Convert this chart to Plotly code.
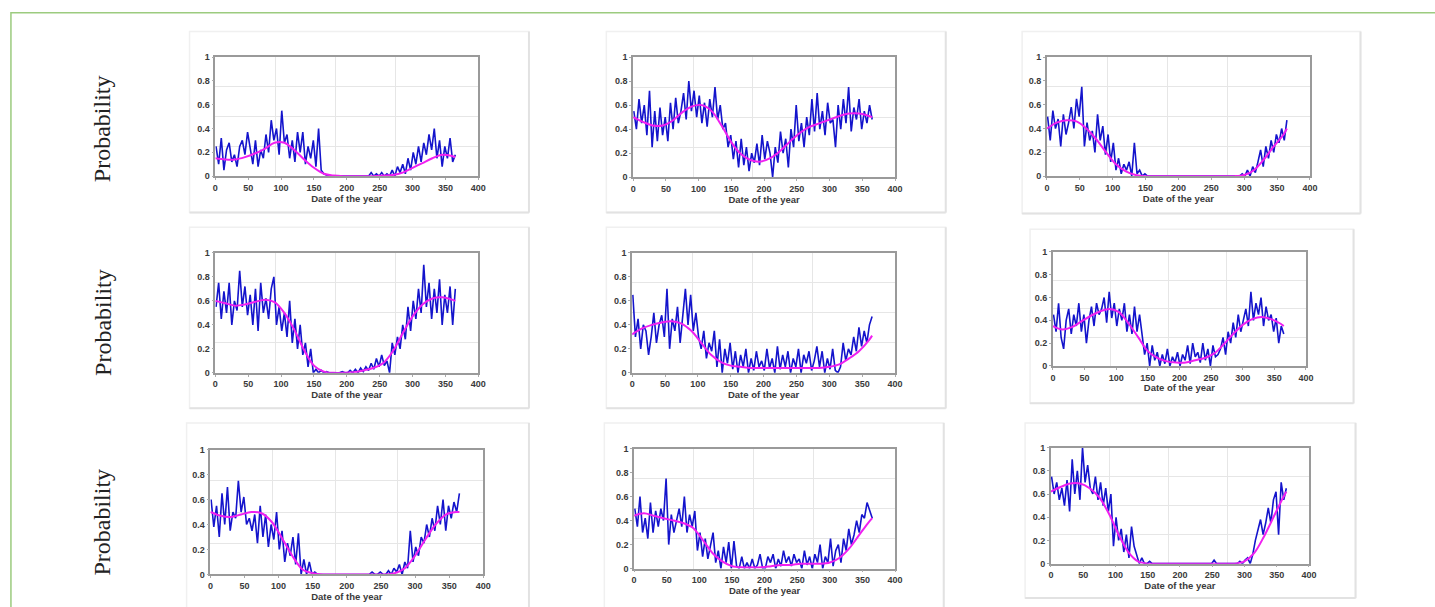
import plotly.graph_objects as go

# ---------------- data ----------------
SMOOTH_DAYS = list(range(0, 361, 15)) + [365]
X_TICKS = [0, 50, 100, 150, 200, 250, 300, 350, 400]
Y_TICKS = [0, 0.2, 0.4, 0.6, 0.8, 1]
X_TITLE = "Date of the year"
Y_LABEL = "Probability"

BLUE_1 = [0.25,0.10,0.32,0.05,0.22,0.28,0.12,0.18,0.08,0.25,
          0.30,0.18,0.37,0.22,0.10,0.30,0.08,0.22,0.15,0.35,
          0.20,0.47,0.30,0.40,0.18,0.55,0.28,0.35,0.15,0.30,
          0.12,0.37,0.20,0.37,0.10,0.25,0.15,0.30,0.08,0.40,
          0.05,0.02,0.01,0.00,0.00,0.00,0.00,0.00,0.00,0.00,
          0.00,0.00,0.00,0.00,0.00,0.00,0.00,0.00,0.00,0.03,
          0.00,0.02,0.00,0.03,0.00,0.02,0.00,0.05,0.00,0.08,
          0.03,0.10,0.02,0.15,0.05,0.20,0.10,0.25,0.12,0.28,
          0.18,0.35,0.22,0.40,0.15,0.30,0.08,0.25,0.15,0.32,
          0.12,0.18]
BLUE_2 = [0.55,0.40,0.65,0.45,0.60,0.35,0.72,0.25,0.55,0.30,
          0.58,0.35,0.50,0.30,0.62,0.40,0.66,0.45,0.55,0.70,
          0.48,0.80,0.55,0.72,0.50,0.68,0.45,0.62,0.42,0.65,
          0.50,0.75,0.48,0.60,0.40,0.45,0.25,0.35,0.15,0.30,
          0.08,0.32,0.10,0.25,0.05,0.20,0.12,0.28,0.10,0.35,
          0.15,0.30,0.20,0.00,0.25,0.12,0.38,0.20,0.32,0.08,
          0.40,0.25,0.60,0.30,0.45,0.25,0.50,0.35,0.65,0.38,
          0.70,0.40,0.55,0.35,0.62,0.45,0.48,0.25,0.60,0.40,
          0.65,0.45,0.75,0.38,0.58,0.48,0.65,0.40,0.55,0.45,
          0.60,0.48]
BLUE_3 = [0.50,0.30,0.55,0.40,0.48,0.25,0.52,0.35,0.45,0.58,
          0.40,0.65,0.50,0.75,0.25,0.45,0.30,0.38,0.20,0.52,
          0.30,0.42,0.18,0.35,0.12,0.28,0.05,0.15,0.02,0.10,
          0.05,0.12,0.00,0.28,0.02,0.05,0.00,0.02,0.00,0.00,
          0.00,0.00,0.00,0.00,0.00,0.00,0.00,0.00,0.00,0.00,
          0.00,0.00,0.00,0.00,0.00,0.00,0.00,0.00,0.00,0.00,
          0.00,0.00,0.00,0.00,0.00,0.00,0.00,0.00,0.00,0.00,
          0.00,0.00,0.00,0.00,0.02,0.00,0.05,0.00,0.08,0.03,
          0.12,0.22,0.08,0.25,0.15,0.30,0.20,0.35,0.28,0.40,
          0.30,0.47]
BLUE_4 = [0.55,0.75,0.45,0.68,0.50,0.75,0.40,0.60,0.52,0.85,
          0.55,0.72,0.48,0.65,0.40,0.70,0.35,0.75,0.50,0.62,
          0.45,0.70,0.80,0.40,0.55,0.35,0.50,0.30,0.60,0.25,
          0.45,0.20,0.40,0.15,0.25,0.05,0.20,0.00,0.03,0.00,
          0.02,0.00,0.01,0.00,0.00,0.00,0.00,0.00,0.01,0.00,
          0.00,0.02,0.00,0.03,0.00,0.04,0.01,0.05,0.02,0.08,
          0.03,0.12,0.05,0.15,0.06,0.10,0.00,0.25,0.15,0.30,
          0.20,0.40,0.28,0.55,0.35,0.60,0.45,0.70,0.50,0.90,
          0.55,0.75,0.45,0.70,0.50,0.78,0.40,0.65,0.50,0.72,
          0.40,0.70]
BLUE_5 = [0.65,0.30,0.45,0.20,0.40,0.35,0.15,0.30,0.50,0.25,
          0.40,0.48,0.30,0.70,0.20,0.45,0.35,0.55,0.25,0.50,
          0.70,0.40,0.65,0.35,0.50,0.30,0.20,0.35,0.12,0.25,
          0.18,0.35,0.05,0.28,0.00,0.20,0.08,0.25,0.03,0.18,
          0.00,0.15,0.05,0.20,0.00,0.12,0.02,0.18,0.05,0.10,
          0.02,0.20,0.04,0.12,0.00,0.22,0.03,0.15,0.05,0.18,
          0.00,0.12,0.05,0.20,0.00,0.15,0.08,0.18,0.02,0.10,
          0.22,0.05,0.18,0.00,0.12,0.03,0.20,0.02,0.00,0.05,
          0.25,0.10,0.20,0.15,0.30,0.18,0.38,0.22,0.35,0.25,
          0.40,0.47]
BLUE_6 = [0.45,0.30,0.55,0.25,0.15,0.40,0.50,0.28,0.45,0.35,
          0.55,0.30,0.45,0.20,0.40,0.52,0.35,0.55,0.45,0.50,
          0.60,0.38,0.65,0.42,0.55,0.35,0.50,0.40,0.55,0.30,
          0.45,0.28,0.52,0.30,0.45,0.25,0.10,0.20,0.00,0.18,
          0.05,0.12,0.00,0.10,0.02,0.15,0.00,0.08,0.03,0.12,
          0.00,0.10,0.05,0.18,0.02,0.20,0.08,0.12,0.03,0.20,
          0.05,0.15,0.00,0.18,0.08,0.10,0.15,0.25,0.10,0.30,
          0.20,0.38,0.25,0.45,0.30,0.40,0.50,0.35,0.65,0.40,
          0.55,0.45,0.60,0.35,0.52,0.40,0.45,0.30,0.42,0.20,
          0.35,0.28]
BLUE_7 = [0.60,0.38,0.55,0.30,0.65,0.40,0.70,0.35,0.50,0.45,
          0.75,0.50,0.62,0.40,0.45,0.35,0.48,0.25,0.55,0.30,
          0.48,0.22,0.40,0.28,0.50,0.20,0.35,0.10,0.25,0.15,
          0.30,0.08,0.33,0.00,0.12,0.00,0.10,0.00,0.02,0.00,
          0.00,0.00,0.00,0.00,0.00,0.00,0.00,0.00,0.00,0.00,
          0.00,0.00,0.00,0.00,0.00,0.00,0.00,0.00,0.00,0.02,
          0.00,0.00,0.02,0.00,0.00,0.03,0.00,0.05,0.02,0.08,
          0.00,0.10,0.05,0.35,0.10,0.22,0.15,0.30,0.25,0.40,
          0.30,0.45,0.35,0.55,0.40,0.60,0.35,0.55,0.45,0.58,
          0.50,0.65]
BLUE_8 = [0.50,0.35,0.60,0.30,0.42,0.25,0.55,0.30,0.48,0.35,
          0.50,0.40,0.75,0.20,0.45,0.30,0.40,0.50,0.35,0.60,
          0.30,0.45,0.35,0.48,0.15,0.30,0.10,0.25,0.08,0.20,
          0.30,0.05,0.15,0.00,0.18,0.05,0.22,0.00,0.23,0.02,
          0.00,0.10,0.00,0.05,0.00,0.08,0.00,0.03,0.12,0.00,
          0.00,0.10,0.05,0.12,0.00,0.08,0.02,0.15,0.05,0.10,
          0.02,0.12,0.05,0.08,0.00,0.15,0.03,0.10,0.00,0.12,
          0.05,0.20,0.00,0.10,0.05,0.25,0.02,0.15,0.20,0.05,
          0.25,0.15,0.33,0.20,0.28,0.40,0.30,0.45,0.42,0.55,
          0.48,0.42]
BLUE_9 = [0.75,0.60,0.70,0.55,0.65,0.50,0.72,0.45,0.90,0.60,
          0.80,0.55,1.00,0.70,0.85,0.65,0.60,0.75,0.55,0.70,
          0.50,0.65,0.45,0.60,0.15,0.40,0.20,0.30,0.10,0.25,
          0.05,0.32,0.15,0.08,0.00,0.05,0.00,0.00,0.02,0.00,
          0.00,0.00,0.00,0.00,0.00,0.00,0.00,0.00,0.00,0.00,
          0.00,0.00,0.00,0.00,0.00,0.00,0.00,0.00,0.00,0.00,
          0.00,0.00,0.00,0.03,0.00,0.00,0.00,0.00,0.00,0.00,
          0.00,0.00,0.00,0.02,0.00,0.03,0.05,0.00,0.08,0.20,
          0.30,0.38,0.25,0.35,0.48,0.35,0.55,0.62,0.25,0.70,
          0.55,0.65]

SMOOTH_1 = [0.15,0.14,0.14,0.16,0.19,0.23,0.28,0.28,0.22,0.14,
            0.07,0.02,0.005,0,0,0,0,0.005,0.01,0.03,
            0.07,0.11,0.15,0.18,0.17,0.16]
SMOOTH_2 = [0.50,0.46,0.43,0.43,0.47,0.54,0.59,0.60,0.55,0.43,
            0.29,0.19,0.14,0.13,0.16,0.22,0.30,0.37,0.42,0.45,
            0.48,0.51,0.53,0.53,0.51,0.50]
SMOOTH_3 = [0.40,0.45,0.47,0.46,0.40,0.31,0.20,0.10,0.04,0.01,
            0,0,0,0,0,0,0,0,0,0,
            0.01,0.05,0.14,0.25,0.35,0.40]
SMOOTH_4 = [0.60,0.58,0.56,0.57,0.59,0.61,0.59,0.50,0.36,0.19,
            0.06,0.01,0,0,0.005,0.02,0.04,0.08,0.18,0.33,
            0.47,0.57,0.62,0.63,0.61,0.60]
SMOOTH_5 = [0.32,0.37,0.40,0.42,0.43,0.41,0.35,0.25,0.15,0.09,
            0.06,0.05,0.04,0.04,0.04,0.04,0.04,0.04,0.04,0.04,
            0.05,0.07,0.12,0.18,0.27,0.31]
SMOOTH_6 = [0.35,0.32,0.34,0.39,0.44,0.48,0.50,0.47,0.37,0.25,
            0.13,0.07,0.04,0.03,0.03,0.05,0.07,0.11,0.19,0.28,
            0.36,0.41,0.43,0.41,0.37,0.35]
SMOOTH_7 = [0.50,0.47,0.46,0.48,0.50,0.49,0.42,0.29,0.15,0.04,
            0.01,0,0,0,0,0,0,0,0.01,0.05,
            0.15,0.28,0.40,0.48,0.50,0.50]
SMOOTH_8 = [0.44,0.46,0.44,0.42,0.40,0.38,0.34,0.24,0.13,0.06,
            0.02,0.01,0.01,0.01,0.02,0.03,0.03,0.04,0.04,0.04,
            0.05,0.09,0.17,0.28,0.39,0.42]
SMOOTH_9 = [0.62,0.66,0.69,0.69,0.65,0.57,0.43,0.25,0.10,0.02,
            0,0,0,0,0,0,0,0,0,0,
            0.02,0.09,0.23,0.40,0.57,0.62]

BLUES = [BLUE_1, BLUE_2, BLUE_3, BLUE_4, BLUE_5, BLUE_6, BLUE_7, BLUE_8, BLUE_9]
SMOOTHS = [SMOOTH_1, SMOOTH_2, SMOOTH_3, SMOOTH_4, SMOOTH_5, SMOOTH_6, SMOOTH_7, SMOOTH_8, SMOOTH_9]

# ---------------- layout (pixels) ----------------
W, H = 1435, 607
# plot areas: (x at 0, x at 400, y at 1, y at 0)
AREAS = [(214, 479, 53, 174), (635, 899, 53, 175), (1052, 1317, 53, 174),
         (214, 479, 252, 374), (634, 899, 252, 374), (1058, 1313, 251, 367),
         (209, 484, 452, 579), (636, 899, 451, 573), (1056, 1316, 450, 568)]
CARDS = [(188, 27, 530, 211), (608, 27, 950, 211), (1027, 27, 1368, 212),
         (188, 226, 530, 410), (608, 226, 950, 410), (1035, 228, 1361, 405),
         (185, 425, 530, 640), (606, 425, 948, 640), (1030, 425, 1363, 603)]
LABEL_Y = [126, 323, 526]

def px(x):
    return x / W

def py(y):
    return 1 - y / H

fig = go.Figure()
tickfont = dict(family="Arial, Liberation Sans, sans-serif", size=9, color="#3a3a3a", weight="bold")
shapes = []
layout = {}

for i in range(9):
    n = "" if i == 0 else str(i + 1)
    xa, ya = "x" + n, "y" + n
    blue = BLUES[i]
    days = [1 + 4 * k for k in range(len(blue))]
    fig.add_trace(go.Scatter(x=days, y=blue, mode="lines", xaxis=xa, yaxis=ya,
                             line=dict(color="#1414cc", width=1.6), showlegend=False))
    fig.add_trace(go.Scatter(x=SMOOTH_DAYS, y=SMOOTHS[i], mode="lines", xaxis=xa, yaxis=ya,
                             line=dict(color="#f020f0", width=2, shape="spline", smoothing=0.9),
                             showlegend=False))
    x0, x1, y0, y1 = AREAS[i]
    layout["xaxis" + n] = dict(
        domain=[px(x0), px(x1)], range=[0, 400], anchor=ya,
        tickvals=X_TICKS, tickfont=tickfont, ticks="outside", ticklen=2, tickcolor="#aaa",
        showline=True, mirror=True, linecolor="#9a9a9a", linewidth=1.5,
        showgrid=False, zeroline=False,
        minor=dict(tickvals=[91.5, 183, 274.5], showgrid=True, gridcolor="#e6e6e6", gridwidth=1, ticks=""),
        title=dict(text=X_TITLE, font=dict(family="Arial, Liberation Sans, sans-serif", size=9.5,
                                          color="#3a3a3a", weight="bold"), standoff=1),
    )
    layout["yaxis" + n] = dict(
        domain=[py(y1), py(y0)], range=[0, 1], anchor=xa,
        tickvals=Y_TICKS, tickfont=tickfont, ticks="outside", ticklen=2, tickcolor="#aaa",
        showline=True, mirror=True, linecolor="#9a9a9a", linewidth=1.5,
        showgrid=False, zeroline=False,
        minor=dict(tickvals=[0.25, 0.5, 0.75], showgrid=True, gridcolor="#e6e6e6", gridwidth=1, ticks=""),
    )
    cx0, cy0, cx1, cy1 = CARDS[i]
    shapes.append(dict(type="rect", xref="paper", yref="paper", x0=px(cx0), x1=px(cx1),
                       y0=py(cy1), y1=py(cy0), line=dict(color="#f0f0f0", width=1.5), layer="below"))
    shapes.append(dict(type="line", xref="paper", yref="paper", x0=px(cx1), x1=px(cx1),
                       y0=py(cy1), y1=py(cy0), line=dict(color="#e2e2e2", width=2), layer="below"))
    shapes.append(dict(type="line", xref="paper", yref="paper", x0=px(cx0), x1=px(cx1),
                       y0=py(cy1), y1=py(cy1), line=dict(color="#e2e2e2", width=2), layer="below"))

# outer green frame (right and bottom edges fall outside the picture)
shapes.append(dict(type="rect", xref="paper", yref="paper", x0=px(8), x1=px(1445),
                   y0=py(650), y1=py(8), line=dict(color="#9ccb7f", width=1.5)))

annotations = [dict(text=Y_LABEL, x=px(100), y=py(ly), xref="paper", yref="paper",
                    textangle=-90, showarrow=False, xanchor="center", yanchor="middle",
                    font=dict(family="Liberation Serif, Times New Roman, serif", size=24, color="#222"))
               for ly in LABEL_Y]

fig.update_layout(width=W, height=H, margin=dict(l=0, r=0, t=0, b=0),
                  paper_bgcolor="white", plot_bgcolor="white",
                  shapes=shapes, annotations=annotations, **layout)

fig.write_html("out.html", config={"displayModeBar": False},
               post_script="document.body.style.margin='0';document.body.style.overflow='hidden';")
